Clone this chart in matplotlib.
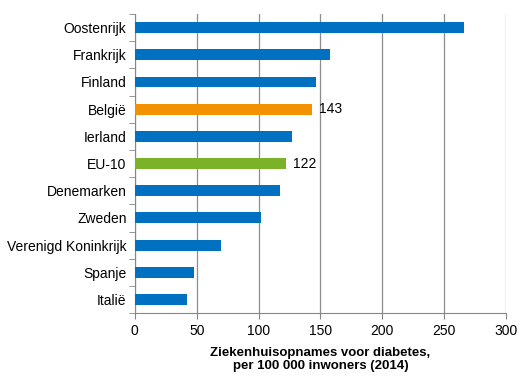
import matplotlib
matplotlib.use('Agg')
import matplotlib.pyplot as plt
import numpy as np

plt.rcParams['font.family'] = ['Liberation Sans', 'DejaVu Sans']

# data, top to bottom
landen = ['Oostenrijk', 'Frankrijk', 'Finland', 'België', 'Ierland', 'EU-10',
          'Denemarken', 'Zweden', 'Verenigd Koninkrijk', 'Spanje', 'Italië']
opnames = [266, 158, 146, 143, 127, 122, 117, 102, 70, 48, 42]
labels_tonen = ['België', 'EU-10']

blauw = '#0070C0'
oranje = '#F39200'
groen = '#7AB22A'
kleuren = [oranje if l == 'België' else groen if l == 'EU-10' else blauw for l in landen]

fig = plt.figure(figsize=(5.31, 3.88), dpi=100)
ax = fig.add_axes([0.254, 0.193, 0.699, 0.771])

y = np.arange(len(landen))[::-1]
ax.barh(y, opnames, height=0.4, color=kleuren, zorder=3)

for yi, land, v in zip(y, landen, opnames):
    if land in labels_tonen:
        ax.annotate(str(v), (v, yi), xytext=(5, 0), textcoords='offset points',
                    va='center', ha='left', fontsize=10)

ax.set_xlim(0, 300)
ax.set_ylim(-0.5, len(landen) - 0.5)
ax.set_xticks(np.arange(0, 301, 50))
ax.set_yticks(y)
ax.set_yticklabels(landen, fontsize=10)
ax.set_yticks(np.arange(-0.5, len(landen), 1), minor=True)
ax.tick_params(axis='y', which='major', length=0, pad=6)
ax.tick_params(axis='y', which='minor', length=4, color='#868686')
ax.tick_params(axis='x', which='major', length=4, color='#868686', labelsize=10, pad=4)

ax.grid(axis='x', color='#8C8C8C', linewidth=0.9, zorder=0)
for s in ['top', 'right']:
    ax.spines[s].set_visible(False)
for s in ['left', 'bottom']:
    ax.spines[s].set_color('#868686')

ax.set_xlabel('Ziekenhuisopnames voor diabetes,\nper 100 000 inwoners (2014)',
              fontsize=9.5, fontweight='bold', labelpad=6)

plt.savefig('out.png', dpi=100)
